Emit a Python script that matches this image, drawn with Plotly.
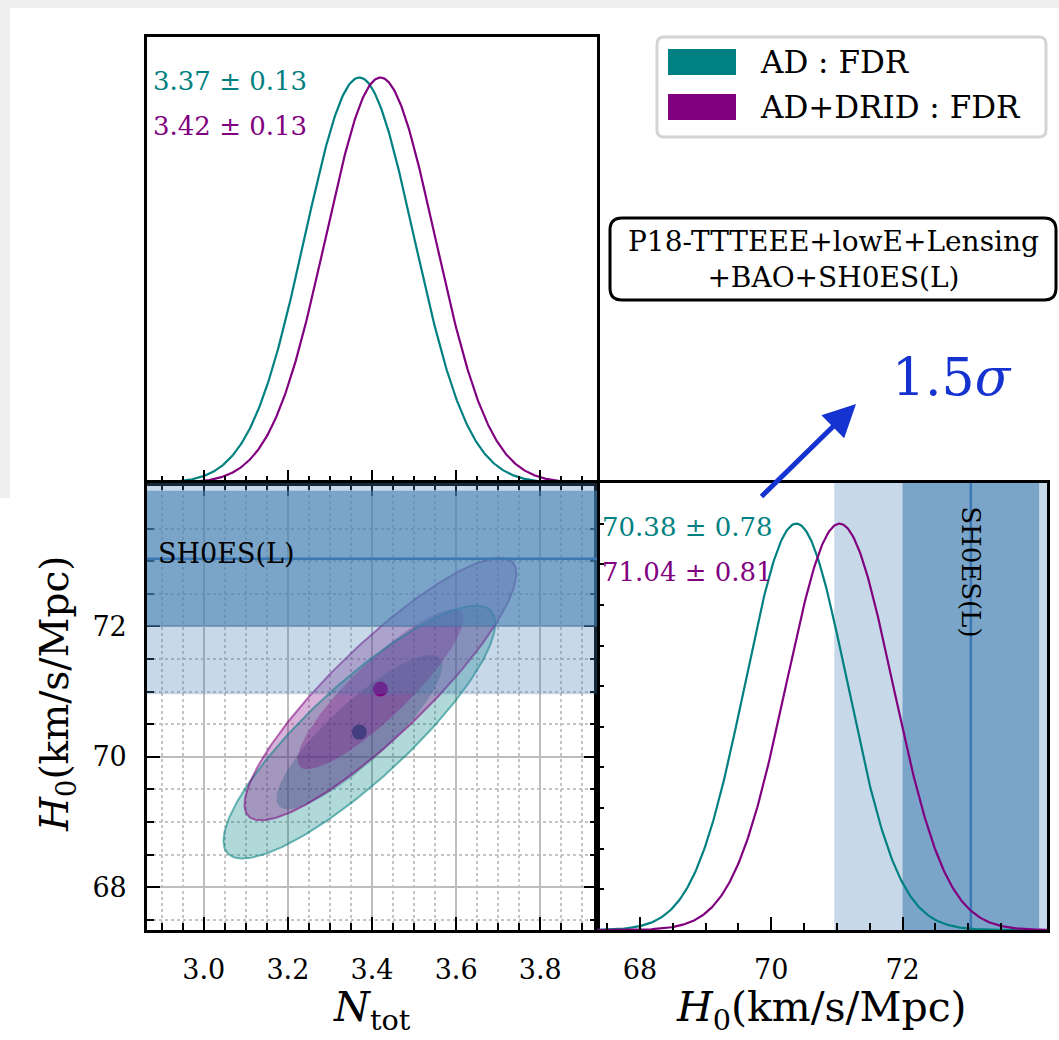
import numpy as np
import plotly.graph_objects as go

# ---------------- data ----------------
series_names = ["AD : FDR", "AD+DRID : FDR"]
series_colors = ["#008080", "#800080"]
ntot_mean = [3.37, 3.42]
ntot_sigma = [0.13, 0.13]
h0_mean = [70.38, 71.04]
h0_sigma = [0.78, 0.81]
corr_ntot_h0 = [0.86, 0.88]
shoes_mean = 73.04
shoes_sigma = 1.04
ntot_major = [3.0, 3.2, 3.4, 3.6, 3.8]
ntot_minor = [2.90, 2.95, 3.05, 3.10, 3.15, 3.25, 3.30, 3.35, 3.45, 3.50, 3.55,
              3.65, 3.70, 3.75, 3.85, 3.90]
h0_major = [68, 70, 72]
h0_minor = [67.5, 68.5, 69.0, 69.5, 70.5, 71.0, 71.5, 72.5, 73.0, 73.5]
ntot_range = [2.865, 3.935]
h0_range = [67.345, 74.2]
chi2_levels = [6.18, 2.30]  # 95%, 68% for 2 parameters

W, H = 1059, 1040
FONT = "DejaVu Serif"


def px(x):
    return x / W


def py(y):
    return 1 - y / H


def gauss_curve(mu, sig, lo, hi, n=400):
    x = np.linspace(lo, hi, n)
    return x, np.exp(-0.5 * ((x - mu) / sig) ** 2)


def ellipse(mx, my, sx, sy, rho, k, n=240):
    t = np.linspace(0, 2 * np.pi, n)
    cov = np.array([[sx * sx, rho * sx * sy], [rho * sx * sy, sy * sy]])
    L = np.linalg.cholesky(cov)
    u = np.sqrt(k) * np.vstack([np.cos(t), np.sin(t)])
    p = L @ u
    return mx + p[0], my + p[1]


def rgba(hexc, a):
    h = hexc.lstrip("#")
    r, g, b = int(h[0:2], 16), int(h[2:4], 16), int(h[4:6], 16)
    return f"rgba({r},{g},{b},{a})"


fig = go.Figure()

# ---- top-left: 1D N_tot ----
for i in range(2):
    x, y = gauss_curve(ntot_mean[i], ntot_sigma[i], ntot_range[0], ntot_range[1])
    fig.add_trace(go.Scatter(x=x, y=y, mode="lines", xaxis="x", yaxis="y",
                             line=dict(color=series_colors[i], width=2.2),
                             showlegend=False, hoverinfo="skip"))

# ---- bottom-left: 2D contours ----
def add_fills(i):
    for k in chi2_levels:
        ex, ey = ellipse(ntot_mean[i], h0_mean[i], ntot_sigma[i], h0_sigma[i],
                         corr_ntot_h0[i], k)
        fig.add_trace(go.Scatter(x=ex, y=ey, mode="lines", fill="toself",
                                 fillcolor=rgba(series_colors[i], 0.3),
                                 line=dict(width=0), xaxis="x2", yaxis="y2",
                                 showlegend=False, hoverinfo="skip"))


def add_dot(i):
    fig.add_trace(go.Scatter(x=[ntot_mean[i]], y=[h0_mean[i]], mode="markers",
                             marker=dict(color=series_colors[i], size=15),
                             xaxis="x2", yaxis="y2", showlegend=False,
                             hoverinfo="skip"))


add_fills(0)
add_dot(0)
add_fills(1)
for i in range(2):
    ex, ey = ellipse(ntot_mean[i], h0_mean[i], ntot_sigma[i], h0_sigma[i],
                     corr_ntot_h0[i], chi2_levels[0])
    fig.add_trace(go.Scatter(x=ex, y=ey, mode="lines",
                             line=dict(color=rgba(series_colors[i], 0.55), width=2),
                             xaxis="x2", yaxis="y2", showlegend=False,
                             hoverinfo="skip"))
add_dot(1)

# ---- bottom-right: 1D H0 ----
for i in range(2):
    x, y = gauss_curve(h0_mean[i], h0_sigma[i], h0_range[0], h0_range[1])
    fig.add_trace(go.Scatter(x=x, y=y, mode="lines", xaxis="x3", yaxis="y3",
                             line=dict(color=series_colors[i], width=2.2),
                             showlegend=False, hoverinfo="skip"))

# ---------------- axes ----------------
xL = [px(147), px(597)]
xR = [px(597), px(1047)]
yT = [py(483), py(37)]
yB = [py(930), py(483)]

axis_common = dict(showline=True, linecolor="black", linewidth=2.6,
                   tickcolor="black", tickwidth=2, ticklen=13, ticks="inside",
                   zeroline=False, showgrid=False,
                   tickfont=dict(family=FONT, size=27, color="black"))

minor_x = dict(tickvals=ntot_minor, ticks="inside", ticklen=7, tickwidth=1.6,
               tickcolor="black")
minor_h0 = dict(tickvals=h0_minor, ticks="inside", ticklen=7, tickwidth=1.6,
                tickcolor="black")

fig.update_layout(
    width=W, height=H,
    margin=dict(l=0, r=0, t=0, b=0),
    paper_bgcolor="white", plot_bgcolor="white",
    showlegend=False,
    xaxis=dict(axis_common, domain=xL, anchor="y", range=ntot_range,
               tickvals=ntot_major, showticklabels=False, mirror=True,
               minor=minor_x),
    yaxis=dict(axis_common, domain=yT, anchor="x", range=[0, 1.1],
               ticks="", showticklabels=False, mirror=True),
    xaxis2=dict(axis_common, domain=xL, anchor="y2", range=ntot_range,
                tickvals=ntot_major, ticktext=[f"{v:.1f}" for v in ntot_major],
                mirror="ticks", showgrid=True, gridcolor="#bdbdbd", gridwidth=1.5,
                ticklabelstandoff=14,
                minor=dict(minor_x, showgrid=True, gridcolor="#c4c4c4",
                           griddash="dot", gridwidth=1.5)),
    yaxis2=dict(axis_common, domain=yB, anchor="x2", range=h0_range,
                tickvals=h0_major, mirror="ticks", showgrid=True,
                gridcolor="#bdbdbd", gridwidth=1.5, ticklabelstandoff=12,
                minor=dict(minor_h0, showgrid=True, gridcolor="#c4c4c4",
                           griddash="dot", gridwidth=1.5)),
    xaxis3=dict(axis_common, domain=xR, anchor="y3", range=h0_range,
                tickvals=h0_major, mirror=True, ticklabelstandoff=14,
                minor=minor_h0),
    yaxis3=dict(axis_common, domain=yB, anchor="x3", range=[0, 1.1],
                dtick=0.1, tick0=0, ticklen=7, tickwidth=1.6,
                showticklabels=False, mirror=True),
)

shapes = []
# light gray edges seen in the reference
shapes.append(dict(type="rect", xref="paper", yref="paper", x0=0, x1=1,
                   y0=py(8), y1=1, fillcolor="#eeeeee", line=dict(width=0),
                   layer="below"))
shapes.append(dict(type="rect", xref="paper", yref="paper", x0=0, x1=px(10),
                   y0=py(498), y1=1, fillcolor="#eeeeee", line=dict(width=0),
                   layer="below"))

band_c = "70,130,180"
# left panel: horizontal SH0ES bands (above contours)
shapes.append(dict(type="rect", xref="x2 domain", yref="y2", x0=0, x1=1,
                   y0=shoes_mean - 2 * shoes_sigma, y1=min(shoes_mean + 2 * shoes_sigma, h0_range[1]),
                   fillcolor=f"rgba({band_c},0.3)", line=dict(width=0), layer="above"))
shapes.append(dict(type="rect", xref="x2 domain", yref="y2", x0=0, x1=1,
                   y0=shoes_mean - shoes_sigma, y1=shoes_mean + shoes_sigma,
                   fillcolor=f"rgba({band_c},0.6)", line=dict(width=0), layer="above"))
shapes.append(dict(type="line", xref="x2 domain", yref="y2", x0=0, x1=1,
                   y0=shoes_mean, y1=shoes_mean,
                   line=dict(color="rgb(60,120,180)", width=2.5), layer="above"))
# right panel: vertical bands (below curves)
shapes.append(dict(type="rect", xref="x3", yref="y3 domain", y0=0, y1=1,
                   x0=shoes_mean - 2 * shoes_sigma, x1=min(shoes_mean + 2 * shoes_sigma, h0_range[1]),
                   fillcolor=f"rgba({band_c},0.3)", line=dict(width=0), layer="below"))
shapes.append(dict(type="rect", xref="x3", yref="y3 domain", y0=0, y1=1,
                   x0=shoes_mean - shoes_sigma, x1=shoes_mean + shoes_sigma,
                   fillcolor=f"rgba({band_c},0.6)", line=dict(width=0), layer="below"))
shapes.append(dict(type="line", xref="x3", yref="y3 domain", y0=0, y1=1,
                   x0=shoes_mean, x1=shoes_mean,
                   line=dict(color="rgb(60,120,180)", width=2.5), layer="below"))


def rounded_rect(x0, y0, x1, y1, r):
    # pixel coords -> paper path
    X0, X1 = px(x0), px(x1)
    Y0, Y1 = py(y0), py(y1)  # Y0 top, Y1 bottom
    rx, ry = r / W, r / H
    return (f"M {X0+rx},{Y0} L {X1-rx},{Y0} Q {X1},{Y0} {X1},{Y0-ry} "
            f"L {X1},{Y1+ry} Q {X1},{Y1} {X1-rx},{Y1} L {X0+rx},{Y1} "
            f"Q {X0},{Y1} {X0},{Y1+ry} L {X0},{Y0-ry} Q {X0},{Y0} {X0+rx},{Y0} Z")


# legend box
shapes.append(dict(type="path", xref="paper", yref="paper",
                   path=rounded_rect(657, 37, 1046, 137, 7),
                   fillcolor="white", line=dict(color="#d4d4d4", width=3)))
leg_rows = [62, 107]
for i in range(2):
    shapes.append(dict(type="rect", xref="paper", yref="paper",
                       x0=px(668), x1=px(736), y0=py(leg_rows[i] + 13),
                       y1=py(leg_rows[i] - 13), fillcolor=series_colors[i],
                       line=dict(width=0)))
# text box
shapes.append(dict(type="path", xref="paper", yref="paper",
                   path=rounded_rect(610, 218, 1056, 300, 12),
                   fillcolor="white", line=dict(color="black", width=3)))

fig.update_layout(shapes=shapes)

ann = []
# stat labels
stat_txt_n = [f"{ntot_mean[i]:.2f} ± {ntot_sigma[i]:.2f}" for i in range(2)]
stat_txt_h = [f"{h0_mean[i]:.2f} ± {h0_sigma[i]:.2f}" for i in range(2)]
for i, yy in enumerate([81, 126]):
    ann.append(dict(text=stat_txt_n[i], x=px(151), y=py(yy), xref="paper",
                    yref="paper", xanchor="left", yanchor="middle", showarrow=False,
                    font=dict(family=FONT, size=26, color=series_colors[i])))
for i, yy in enumerate([527, 572]):
    ann.append(dict(text=stat_txt_h[i], x=px(600), y=py(yy), xref="paper",
                    yref="paper", xanchor="left", yanchor="middle", showarrow=False,
                    font=dict(family=FONT, size=26, color=series_colors[i])))
# SH0ES labels
ann.append(dict(text="SH0ES(L)", x=px(156), y=py(553), xref="paper", yref="paper",
                xanchor="left", yanchor="middle", showarrow=False,
                font=dict(family=FONT, size=27, color="black")))
ann.append(dict(text="SH0ES(L)", x=shoes_mean, xref="x3", y=py(572), yref="paper",
                xanchor="center", yanchor="middle", showarrow=False, textangle=90,
                font=dict(family=FONT, size=26, color="black")))
# legend text
for i in range(2):
    ann.append(dict(text=series_names[i], x=px(758), y=py(leg_rows[i]),
                    xref="paper", yref="paper", xanchor="left", yanchor="middle",
                    showarrow=False, font=dict(family=FONT, size=31, color="black")))
# text box content
ann.append(dict(text="P18-TTTEEE+lowE+Lensing<br>+BAO+SH0ES(L)", x=px(833),
                y=py(259), xref="paper", yref="paper", xanchor="center",
                yanchor="middle", showarrow=False, align="center",
                font=dict(family=FONT, size=28, color="black")))
# arrow + 1.5 sigma
ann.append(dict(text="", x=px(856), y=py(404), xref="paper", yref="paper",
                ax=760 - 856, ay=498 - 404, axref="pixel", ayref="pixel",
                showarrow=True, arrowhead=2, arrowsize=1.3, arrowwidth=5,
                arrowcolor="#1533d0", standoff=0))
ann.append(dict(text="1.5<i>σ</i>", x=px(952), y=py(377), xref="paper",
                yref="paper", xanchor="center", yanchor="middle", showarrow=False,
                font=dict(family=FONT, size=52, color="#1533d0")))
# axis titles
ann.append(dict(text="<i>H</i><sub>0</sub>(km/s/Mpc)", x=px(57), y=py(694),
                xref="paper", yref="paper", textangle=-90, showarrow=False,
                xanchor="center", yanchor="middle",
                font=dict(family=FONT, size=39, color="black")))
ann.append(dict(text="<i>N</i><sub>tot</sub>", x=px(372), y=py(1010),
                xref="paper", yref="paper", showarrow=False,
                xanchor="center", yanchor="middle",
                font=dict(family=FONT, size=41, color="black")))
ann.append(dict(text="<i>H</i><sub>0</sub>(km/s/Mpc)", x=px(821), y=py(1010),
                xref="paper", yref="paper", showarrow=False,
                xanchor="center", yanchor="middle",
                font=dict(family=FONT, size=41, color="black")))
fig.update_layout(annotations=ann)

fig.write_html("out.html",
               config={"displayModeBar": False},
               post_script="document.body.style.margin='0px';"
                           "document.body.style.overflow='hidden';")
